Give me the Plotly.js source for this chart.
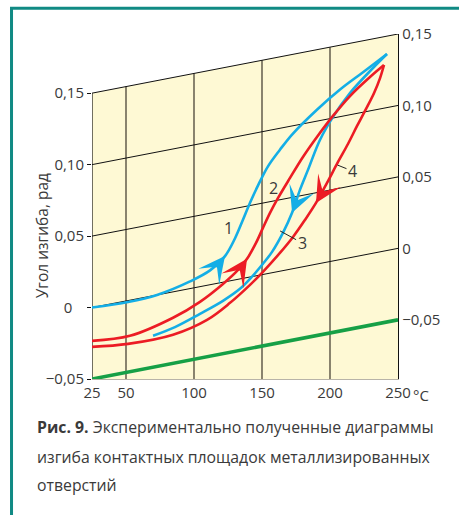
<!DOCTYPE html>
<html><head><meta charset="utf-8">
<script src="https://cdn.plot.ly/plotly-3.0.1.min.js"></script>
<style>html,body{margin:0;padding:0;background:#fff;} #chart{width:459px;height:515px;}</style>
</head><body><div id="chart"></div>
<script>
// Temperature (°C) and bending angle (rad, read against the skewed grid)
const curve1T = [25, 51.5, 72.8, 97.1, 111.8, 122.8, 130.1, 136.0, 141.2, 147.1, 154.4, 163.2, 172.1, 190.4, 207.4, 224.3, 241.9];
const curve1V = [0.000, -0.001, 0.000, 0.005, 0.010, 0.018, 0.029, 0.041, 0.052, 0.063, 0.075, 0.085, 0.094, 0.108, 0.119, 0.128, 0.1375];
const curve3T = [241.9, 231.6, 214.7, 202.2, 192.6, 183.8, 177.9, 172.1, 165.4, 157.4, 150.7, 141.2, 133.8, 121.3, 104.4, 86.0, 69.9];
const curve3V = [0.1375, 0.1296, 0.1152, 0.1008, 0.0864, 0.0671, 0.0542, 0.0392, 0.0264, 0.0146, 0.0075, -0.0013, -0.0069, -0.0130, -0.0190, -0.0249, -0.0280];
const curve2T = [25, 52.9, 84.6, 104.4, 121.3, 132.4, 139.0, 145.6, 150.7, 155.9, 161.8, 170.6, 180.1, 190.4, 202.2, 214.7, 229.4, 239.7];
const curve2V = [-0.0233, -0.0249, -0.0181, -0.0106, -0.0012, 0.0066, 0.0131, 0.0230, 0.0326, 0.0421, 0.0515, 0.0639, 0.0768, 0.0889, 0.1015, 0.1131, 0.1237, 0.1302];
const curve4T = [239.7, 236.8, 232.4, 226.5, 219.9, 213.2, 205.9, 197.8, 189.7, 181.6, 172.8, 163.2, 150.0, 141.2, 126.5, 109.6, 84.6, 51.5, 25];
const curve4V = [0.1302, 0.1216, 0.1120, 0.1019, 0.0912, 0.0798, 0.0686, 0.0554, 0.0429, 0.0325, 0.0222, 0.0128, 0.0013, -0.0055, -0.0154, -0.0242, -0.0300, -0.0303, -0.0275];
const baseT = [25, 250];
const baseV = [-0.05, -0.05];
const gridValues = [0, 0.05, 0.10];
const topValue = 0.15;
const gridTemps = [50, 100, 150, 200];
const xTickVals = [25, 50, 100, 150, 200, 250];
const xTickText = ['25', '50', '100', '150', '200', '250'];
const yTickVals = [-0.05, 0, 0.05, 0.10, 0.15];
const yTickTextL = ['\u22120,05', '0\u00a0\u00a0\u00a0', '0,05', '0,10', '0,15'];
const yTickTextR = ['\u22120,05', '0', '0,05', '0,10', '0,15'];
const curveLabels = ['1', '2', '3', '4'];
const captionBold = 'Рис. 9.';
const captionLines = ['Экспериментально полученные диаграммы', 'изгиба контактных площадок металлизированных', 'отверстий'];
const yTitle = 'Угол изгиба, рад';

const T0 = 25, T1 = 250, SKEW = 0.0414;
const shear = (T, v) => v + SKEW * (T - T0) / (T1 - T0);
const sh = (Ts, Vs) => Ts.map((t, i) => shear(t, Vs[i]));

const BLUE = '#14aee6', RED = '#ec1c24', GREEN = '#16a046', YEL = '#fef9d4', TXT = '#3a3a3a';
const FONT = 'Open Sans, Noto Sans, sans-serif';

const traces = [];
traces.push({x: [T0, T1, T1, T0, T0], y: [-0.05, -0.05, shear(T1, topValue), shear(T0, topValue), -0.05],
  mode: 'lines', fill: 'toself', fillcolor: YEL, line: {width: 0}, hoverinfo: 'skip'});
gridTemps.forEach(t => traces.push({x: [t, t], y: [-0.05, shear(t, topValue)], mode: 'lines',
  line: {color: '#4a4436', width: 1.3}, hoverinfo: 'skip'}));
gridValues.concat([topValue]).forEach(v => traces.push({x: [T0, T1], y: [shear(T0, v), shear(T1, v)], mode: 'lines',
  line: {color: '#111', width: 1}, hoverinfo: 'skip'}));
traces.push({x: [T0, T0], y: [-0.05, topValue], mode: 'lines', line: {color: '#111', width: 1.2}, hoverinfo: 'skip'});
traces.push({x: baseT, y: sh(baseT, baseV), mode: 'lines', line: {color: GREEN, width: 3.6}, hoverinfo: 'skip'});
const curves = [[curve1T, curve1V, BLUE, 5], [curve3T, curve3V, BLUE, 7], [curve2T, curve2V, RED, 6], [curve4T, curve4V, RED, 8]];
curves.forEach(c => traces.push({x: c[0], y: sh(c[0], c[1]), mode: 'lines',
  line: {color: c[2], width: 2.6, shape: 'spline', smoothing: 1}, hoverinfo: 'skip'}));
traces.push({x: [T1], y: [0], yaxis: 'y2', mode: 'markers', marker: {opacity: 0}, hoverinfo: 'skip'});

const ann = [];
// direction arrows: head on a curve point, tail along the local tangent (central difference)
curves.forEach(c => {
  const i = c[3], Y = sh(c[0], c[1]);
  const dx = c[0][i + 1] - c[0][i - 1], dy = Y[i + 1] - Y[i - 1];
  ann.push({x: c[0][i], y: Y[i], ax: c[0][i] - 0.35 * dx, ay: Y[i] - 0.35 * dy,
    xref: 'x', yref: 'y', axref: 'x', ayref: 'y', text: '', showarrow: true,
    arrowhead: 3, arrowsize: 2.0, arrowwidth: 2.2, arrowcolor: c[2], standoff: 0, startstandoff: 0});
});
const lf = {family: FONT, size: 16, color: TXT};
ann.push({x: 125, y: 0.0557, xref: 'x', yref: 'y', text: curveLabels[0], showarrow: false, font: lf});
ann.push({x: 158.8, y: 0.0837, xref: 'x', yref: 'y', text: curveLabels[1], showarrow: false, font: lf});
ann.push({x: 163.3, y: 0.0536, xref: 'x', yref: 'y', text: curveLabels[2], showarrow: true, arrowhead: 0,
  arrowwidth: 1, arrowcolor: '#222', ax: 22, ay: 12, standoff: 0, font: lf});
ann.push({x: 205.5, y: 0.0997, xref: 'x', yref: 'y', text: curveLabels[3], showarrow: true, arrowhead: 0,
  arrowwidth: 1, arrowcolor: '#222', ax: 15, ay: 6, standoff: 0, font: lf});
ann.push({x: 1.0, y: 0, xref: 'paper', yref: 'paper', xanchor: 'left', yanchor: 'top', yshift: -4, xshift: 13,
  text: '°C', showarrow: false, font: {family: FONT, size: 15, color: TXT}});
ann.push({x: -0.163, y: 0.414, xref: 'paper', yref: 'paper', xanchor: 'center', yanchor: 'middle', text: yTitle,
  textangle: -90, showarrow: false, font: {family: FONT, size: 15.5, color: TXT}});
const cf = {family: FONT, size: 15.8, color: TXT};
const capY = [-0.139, -0.226, -0.307];
ann.push({x: -0.186, y: capY[0], xref: 'paper', yref: 'paper', xanchor: 'left', yanchor: 'middle', showarrow: false,
  text: '<b>' + captionBold + '</b> ' + captionLines[0], font: cf});
ann.push({x: -0.186, y: capY[1], xref: 'paper', yref: 'paper', xanchor: 'left', yanchor: 'middle', showarrow: false,
  text: captionLines[1], font: cf});
ann.push({x: -0.186, y: capY[2], xref: 'paper', yref: 'paper', xanchor: 'left', yanchor: 'middle', showarrow: false,
  text: captionLines[2], font: cf});

const layout = {
  width: 459, height: 515,
  margin: {l: 92, r: 61, t: 34, b: 136},
  paper_bgcolor: '#fff', plot_bgcolor: 'rgba(0,0,0,0)',
  showlegend: false, hovermode: false,
  xaxis: {range: [T0, T1], tickvals: xTickVals, ticktext: xTickText, showgrid: false, zeroline: false,
    showline: true, linecolor: '#b8b4a8', linewidth: 1, ticks: '', tickfont: {family: FONT, size: 15, color: TXT}},
  yaxis: {range: [-0.05, 0.1914], tickvals: yTickVals, ticktext: yTickTextL, showgrid: false, zeroline: false,
    showline: false, ticks: 'outside', ticklen: 4, tickcolor: '#111', tickfont: {family: FONT, size: 15, color: TXT}},
  yaxis2: {overlaying: 'y', side: 'right', range: [-0.05 - SKEW, 0.1914 - SKEW], tickvals: yTickVals, ticktext: yTickTextR,
    showgrid: false, zeroline: false, showline: true, linecolor: '#111', linewidth: 1.2, ticks: '',
    tickfont: {family: FONT, size: 15, color: TXT}},
  shapes: [{type: 'rect', xref: 'paper', yref: 'paper', x0: -0.263, x1: 2, y0: -2, y1: 1.075,
    line: {color: '#108a84', width: 3}, fillcolor: 'rgba(0,0,0,0)', layer: 'below'}],
  annotations: ann
};
Plotly.newPlot('chart', traces, layout, {staticPlot: true, displayModeBar: false});
</script></body></html>
